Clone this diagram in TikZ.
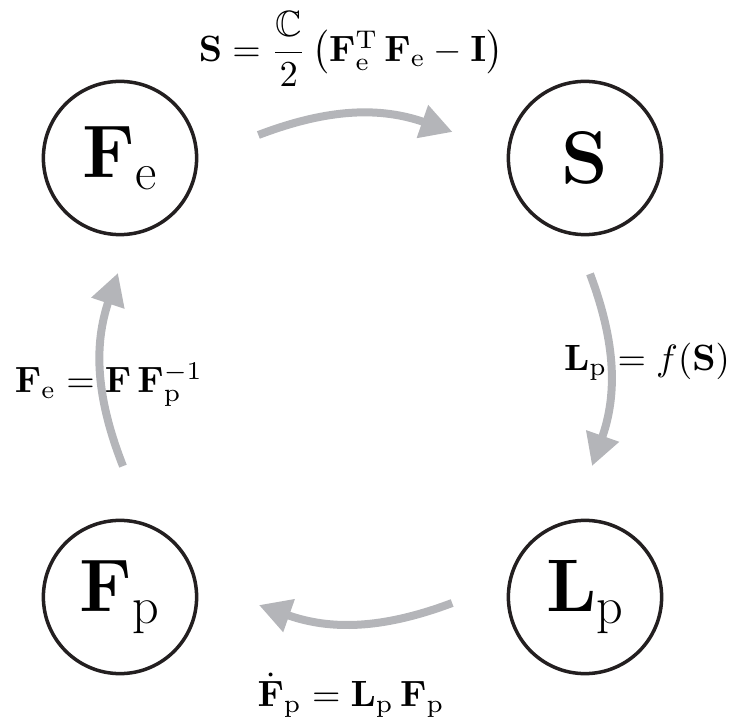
\RequirePackage{fix-cm}
\documentclass[tikz,border=0pt]{standalone}
\usepackage{amsmath,amssymb}
\usetikzlibrary{arrows.meta}
\definecolor{flowgray}{RGB}{180,181,185}
\definecolor{ringblack}{RGB}{35,31,32}
\begin{document}
\begin{tikzpicture}[x=0.025cm, y=0.025cm,
		state/.style={circle, draw=ringblack, line width=0.0875cm, minimum size=3.83cm, inner sep=0pt, font=\fontsize{53}{60}\selectfont},
		flow/.style={draw=flowgray, line width=0.2cm, -{Triangle[length=0.8cm, width=0.82cm]}},
		lbl/.style={inner sep=0pt, scale=2.6}]
	\useasboundingbox (0,0) rectangle (736,725);
	
	% states
	\node[state] (fe) at (120,567) {$\mathbf{F}_\mathrm{e}$};
	\node[state] (s) at (585,567) {$\mathbf{S}$};
	\node[state] (lp) at (585,128) {$\mathbf{L}_\mathrm{p}$};
	\node[state] (fp) at (120,128) {$\mathbf{F}_\mathrm{p}$};
	
	% relations
	\node[lbl] (ls) at (351,676) {$\mathbf{S} = \dfrac{\mathbb{C}}{2}\,\bigl(\mathbf{F}_\mathrm{e}^\mathrm{T}\,\mathbf{F}_\mathrm{e} - \mathbf{I}\bigr)$};
	\node[lbl] (llp) at (647,363) {$\mathbf{L}_\mathrm{p} = f(\mathbf{S})$};
	\node[lbl] (lfp) at (351,30) {$\dot{\mathbf{F}}_\mathrm{p} = \mathbf{L}_\mathrm{p}\,\mathbf{F}_\mathrm{p}$};
	\node[lbl] (lfe) at (109,340) {$\mathbf{F}_\mathrm{e} = \mathbf{F}\,\mathbf{F}_\mathrm{p}^{-1}$};
	
	% cycle, drawn over the labels
	\draw[flow] ([shift={(60,23)}]fe.east) to[bend left=20] ([shift={(-54,26)}]s.west);
	\draw[flow] ([shift={(5,-37.5)}]s.south) to[bend left=20] ([shift={(7,52.5)}]lp.north);
	\draw[flow] ([shift={(-54.5,-6)}]lp.west) to[bend left=20] ([shift={(60.5,-8)}]fp.east);
	\draw[flow] ([shift={(3,52.5)}]fp.north) to[bend left=20] ([shift={(-2,-36.5)}]fe.south);
\end{tikzpicture}
\end{document}
